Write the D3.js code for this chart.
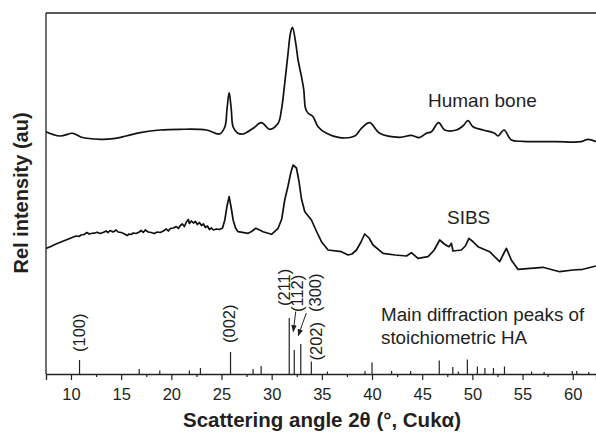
<!DOCTYPE html>
<meta charset="utf-8">
<script src="https://d3js.org/d3.v7.min.js"></script>
<style>
  body { margin: 0; background: #fff; }
  text { font-family: "Liberation Sans", Arial, sans-serif; fill: #231f20; }
</style>
<div id="chart"></div>
<script>
// 2-theta (deg) and relative intensity (au)
const boneAngle = [7.5, 8.9, 10.2, 11.06, 12.9, 14.2, 15.5, 16.9, 18.85, 20.85, 23.5, 24.8, 25.33, 25.55, 25.76, 25.97, 26.16, 26.6, 27.15, 28.15, 28.98, 29.8, 30.64, 30.97, 31.3, 31.63, 31.87, 32.07, 32.4, 32.63, 32.97, 33.2, 33.37, 33.63, 34.12, 34.62, 35.46, 36.78, 38.28, 38.94, 39.77, 40.77, 42.76, 43.92, 44.68, 45.42, 45.92, 46.64, 47.24, 48.41, 49.06, 49.56, 50.06, 51.06, 52.22, 52.55, 53.15, 53.88, 55.04, 58.37, 60.86, 61.51, 62.3];
const boneValue = [242.3, 238, 240.7, 236.7, 234.7, 235.3, 238, 241.3, 244, 244.7, 244, 240, 247, 265, 281.3, 265, 247, 241, 240, 245.7, 251.3, 244.7, 250.7, 264, 290.7, 320.7, 340.7, 346.7, 330.7, 314, 297.3, 284, 265.7, 260.7, 257.3, 247.3, 240.7, 236.3, 238, 245.7, 251.3, 240.7, 236.7, 238.7, 236.3, 240.7, 242.3, 251.3, 244, 244, 248, 253.3, 247.3, 244, 240.7, 238, 244, 234, 232.7, 232.3, 232.3, 234.7, 232.3];

const sibsAngle = [7.5, 8.0, 8.5, 9.0, 9.5, 10.0, 10.5, 10.8, 11.0, 11.3, 11.6, 11.8, 12.0, 12.3, 12.6, 12.9, 13.2, 13.5, 13.7, 13.9, 14.2, 14.5, 14.7, 15.0, 15.3, 15.6, 15.8, 16.0, 16.2, 16.5, 16.8, 17.0, 17.2, 17.4, 17.7, 18.0, 18.3, 18.6, 18.9, 19.2, 19.5, 19.7, 19.9, 20.2, 20.5, 20.7, 20.9, 21.1, 21.3, 21.5, 21.7, 21.8, 22.0, 22.2, 22.4, 22.6, 22.8, 23.0, 23.2, 23.4, 23.6, 23.8, 24.0, 24.2, 24.5, 24.8, 25.1, 25.33, 25.55, 25.76, 25.97, 26.16, 26.4, 26.65, 27.65, 28.0, 28.42, 28.8, 29.14, 29.98, 30.64, 31.0, 31.3, 31.63, 31.9, 32.13, 32.47, 32.73, 32.97, 33.3, 33.96, 34.5, 34.96, 35.62, 36.95, 37.61, 38.0, 38.45, 38.9, 39.27, 39.7, 40.1, 41.1, 42.3, 43.43, 43.92, 44.58, 45.58, 46.2, 46.74, 47.2, 47.67, 47.91, 48.07, 48.9, 49.3, 49.66, 50.1, 50.56, 51.72, 52.72, 53.1, 53.39, 53.88, 54.54, 57.03, 58.7, 60.02, 61.02, 62.3];
const sibsValue = [125.5, 127.5, 130, 132, 134, 136, 138, 137.5, 139, 139.5, 141.5, 140, 140.5, 140.8, 141.8, 140.5, 141.5, 143, 141.5, 143.5, 142, 144, 142, 141.5, 140.2, 138.5, 140, 139.5, 141, 140.5, 142, 143.5, 141.5, 144, 142, 141.5, 140.5, 142, 141.5, 143, 145, 143, 145.5, 146, 147.5, 145.5, 148.5, 150, 147.5, 152, 154.5, 150.5, 153, 151, 152.5, 149.5, 151.5, 148.5, 150, 146.5, 148, 144.5, 146, 144, 145, 144.5, 146, 154, 168, 177.3, 166, 154, 146, 142.3, 140.7, 142.5, 145.7, 144, 142.3, 139.7, 145.7, 155, 174, 188, 201, 209, 206, 192, 175, 162.3, 154, 142, 132.3, 124, 122.3, 119, 120, 124, 132, 140, 136, 129, 120.7, 119, 118, 121.3, 115.7, 117.3, 124, 134, 130, 127.3, 130.7, 123, 124, 128, 135.7, 132, 127.3, 122.3, 112.3, 120, 125.7, 114, 104.7, 106.7, 102.3, 104, 104.7, 108];

// stoichiometric HA reference lines
const hklLabel = ["(100)", "(002)", "(211)", "(112)", "(300)", "(202)"];
const hklAngle = [10.85, 25.9, 31.75, 32.25, 32.9, 33.95];
const hklHeight = [14, 22, 56, 24, 30, 12.5];
const minorAngle = [16.8, 18.85, 21.8, 22.9, 28.15, 28.95, 35.55, 39.3, 40.0, 41.95, 43.85, 46.7, 48.05, 48.6, 49.5, 50.5, 51.25, 52.1, 53.2, 55.9, 57.15, 59.95, 60.4, 61.6];
const minorHeight = [5, 3.5, 3.5, 6, 5, 8, 2.5, 3, 11.5, 3, 3, 13.5, 7, 2.5, 14.5, 7.5, 6, 6, 7.5, 2.5, 2, 3, 3, 2];

const majorTicks = [10, 15, 20, 25, 30, 35, 40, 45, 50, 55, 60];
const minorTicks = [12.5, 17.5, 22.5, 27.5, 32.5, 37.5, 42.5, 47.5, 52.5, 57.5];

const width = 596, height = 432;
const mLeft = 46, mTop = 13, mBottom = 374, mRight = 596;

const x = d3.scaleLinear().domain([7.51, 62.32]).range([mLeft, mRight]);
const y = d3.scaleLinear().domain([0, 361]).range([mBottom, mTop]);

const svg = d3.select("#chart").append("svg")
    .attr("width", width)
    .attr("height", height);

svg.append("clipPath").attr("id", "plot")
  .append("rect").attr("x", mLeft).attr("y", mTop).attr("width", mRight - mLeft).attr("height", mBottom - mTop);

const g = svg.append("g").attr("clip-path", "url(#plot)");

const line = d3.line().x(d => x(d[0])).y(d => y(d[1]));

g.append("path")
    .datum(d3.zip(boneAngle, boneValue))
    .attr("fill", "none")
    .attr("stroke", "#111")
    .attr("stroke-width", 1.7)
    .attr("stroke-linejoin", "round")
    .attr("d", line.curve(d3.curveCatmullRom.alpha(0.5)));

g.append("path")
    .datum(d3.zip(sibsAngle, sibsValue))
    .attr("fill", "none")
    .attr("stroke", "#111")
    .attr("stroke-width", 1.7)
    .attr("stroke-linejoin", "round")
    .attr("d", line.curve(d3.curveLinear));

// reference sticks
const sticks = d3.zip(hklAngle, hklHeight).concat(d3.zip(minorAngle, minorHeight));
g.selectAll(".stick")
  .data(sticks)
  .enter().append("line")
    .attr("class", "stick")
    .attr("x1", d => x(d[0])).attr("x2", d => x(d[0]))
    .attr("y1", y(0)).attr("y2", d => y(d[1]))
    .attr("stroke", "#222")
    .attr("stroke-width", 1.2);

// axes
const xAxis = svg.append("g").attr("transform", "translate(0," + mBottom + ")")
    .call(d3.axisBottom(x).tickValues(majorTicks).tickSize(6).tickPadding(8).tickFormat(d3.format("d")));
svg.append("g").attr("transform", "translate(0," + mBottom + ")")
    .call(d3.axisBottom(x).tickValues(minorTicks).tickSize(3).tickFormat(""))
    .select(".domain").remove();
xAxis.select(".domain").attr("stroke", "#222").attr("stroke-width", 1.3);
svg.selectAll(".tick line").attr("stroke", "#222").attr("stroke-width", 1.2);
xAxis.selectAll(".tick text")
    .attr("font-family", "Liberation Sans, Arial, sans-serif")
    .attr("font-size", 16.5)
    .attr("fill", "#231f20");

svg.append("line").attr("x1", mLeft).attr("x2", mLeft).attr("y1", mTop).attr("y2", mBottom)
    .attr("stroke", "#222").attr("stroke-width", 1.3);
svg.append("line").attr("x1", mLeft).attr("x2", mRight).attr("y1", mTop).attr("y2", mTop)
    .attr("stroke", "#222").attr("stroke-width", 1.3);

// hkl labels: offset from stick (px) and gap above stick top
const labelPos = [
  { dx: 1, gap: 8 }, { dx: 0, gap: 9 }, { dx: -4, gap: 12 },
  { dx: 4, gap: 38 }, { dx: 15, gap: 32 }, { dx: 6, gap: 1 }
];
hklLabel.forEach(function (t, i) {
  const cx = x(hklAngle[i]) + labelPos[i].dx;
  const by = y(hklHeight[i]) - labelPos[i].gap;
  svg.append("text")
    .attr("transform", "translate(" + cx + "," + by + ") rotate(-90)")
    .attr("dy", "0.3em")
    .attr("font-size", 16.5)
    .text(t);
});

// arrows to (112) and (300)
const arrows = [
  { from: [32.4, 62.5], to: [32.15, 42.5] },
  { from: [33.45, 61], to: [32.65, 38.5] }
];
svg.append("defs").append("marker")
    .attr("id", "head").attr("viewBox", "0 0 10 10")
    .attr("refX", 9).attr("refY", 5)
    .attr("markerWidth", 7).attr("markerHeight", 7)
    .attr("orient", "auto")
  .append("path").attr("d", "M0,1L10,5L0,9Z").attr("fill", "#222");
arrows.forEach(function (a) {
  svg.append("line")
    .attr("x1", x(a.from[0])).attr("y1", y(a.from[1]))
    .attr("x2", x(a.to[0])).attr("y2", y(a.to[1]))
    .attr("stroke", "#222").attr("stroke-width", 1)
    .attr("marker-end", "url(#head)");
});

// series labels
svg.append("text").attr("x", 428).attr("y", 107).attr("font-size", 19).text("Human bone");
svg.append("text").attr("x", 447).attr("y", 224).attr("font-size", 19).text("SIBS");
svg.append("text").attr("x", 381).attr("y", 321).attr("font-size", 18.8).text("Main diffraction peaks of");
svg.append("text").attr("x", 381).attr("y", 344).attr("font-size", 18.8).text("stoichiometric HA");

// axis titles
svg.append("text")
    .attr("x", 322).attr("y", 427)
    .attr("text-anchor", "middle")
    .attr("font-size", 20.5).attr("font-weight", "bold")
    .text("Scattering angle 2\u03b8 (\u00b0, Cuk\u03b1)");
svg.append("text")
    .attr("transform", "translate(28,193) rotate(-90)")
    .attr("text-anchor", "middle")
    .attr("font-size", 20).attr("font-weight", "bold")
    .text("Rel intensity (au)");
</script>
